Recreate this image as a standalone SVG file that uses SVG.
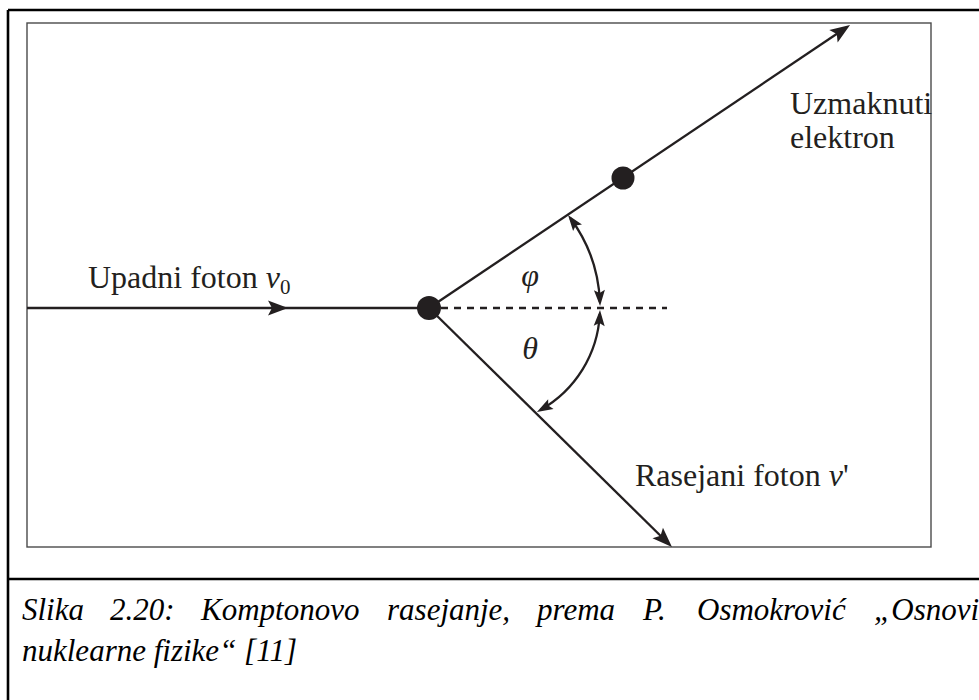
<svg xmlns="http://www.w3.org/2000/svg" width="979" height="700" viewBox="0 0 979 700">
  <style>
    .frame { stroke: #000; stroke-width: 2.6; fill: none; }
    .inner { stroke: #4a4a4a; stroke-width: 1.4; fill: none; }
    .ln { stroke: #231f20; stroke-width: 2.3; fill: none; }
    .dash { stroke: #231f20; stroke-width: 2.3; stroke-dasharray: 7 6; fill: none; }
    .arc { stroke: #231f20; stroke-width: 2.3; fill: none; marker-start: url(#ah2); marker-end: url(#ah2); }
    .dot { fill: #231f20; }
    .lbl { font-family: "Liberation Serif", "Times New Roman", serif; font-size: 32px; fill: #231f20; }
    .it { font-style: italic; }
    .cap { font-family: "Liberation Serif", "Times New Roman", serif; font-size: 31px; font-style: italic; fill: #000; }
  </style>
  <defs>
    <marker id="ah" markerUnits="userSpaceOnUse" markerWidth="26" markerHeight="18" viewBox="-20 -9 26 18" refX="0" refY="0" orient="auto-start-reverse">
      <path d="M5,0 L-15,-7.5 L-11,0 L-15,7.5 Z" fill="#231f20"/>
    </marker>
    <marker id="ah2" markerUnits="userSpaceOnUse" markerWidth="20" markerHeight="14" viewBox="-15 -7 20 14" refX="0" refY="0" orient="auto-start-reverse">
      <path d="M4,0 L-12,-5.5 L-9,0 L-12,5.5 Z" fill="#231f20"/>
    </marker>
  </defs>

  <g id="frame">
    <path class="frame" d="M8,10 H979 M8,10 V700 M8,579 H979"/>
    <rect class="inner" x="27" y="23" width="904" height="524"/>
  </g>

  <g id="connectors">
    <path id="incoming" class="ln" d="M27,308 L283,308 L429,308" marker-mid="url(#ah)"/>
    <path id="electron-path" class="ln" d="M429,308 L845.9,27.8" marker-end="url(#ah)"/>
    <path id="photon-path" class="ln" d="M429,308 L668.4,543.5" marker-end="url(#ah)"/>
    <path id="axis" class="dash" d="M441,308 H667"/>
    <path id="phi-arc" class="arc" d="M570.4,218.2 A151,151 0 0 1 599.9,302"/>
    <path id="theta-arc" class="arc" d="M599.8,314 A117,117 0 0 1 540.4,410"/>
  </g>

  <g id="scatter-point">
    <circle class="dot" cx="429" cy="308" r="12"/>
  </g>
  <g id="electron">
    <circle class="dot" cx="623" cy="178" r="11.5"/>
  </g>

  <g id="label-incoming">
    <text class="lbl" x="88" y="288">Upadni foton <tspan class="it">ν</tspan><tspan font-size="21" dy="6">0</tspan></text>
  </g>
  <g id="label-electron">
    <text class="lbl" x="790" y="114">Uzmaknuti</text>
    <text class="lbl" x="790" y="148">elektron</text>
  </g>
  <g id="label-scattered">
    <text class="lbl" x="635" y="486">Rasejani foton <tspan class="it">ν</tspan>'</text>
  </g>
  <g id="label-phi">
    <text class="lbl it" x="530" y="286" text-anchor="middle">φ</text>
  </g>
  <g id="label-theta">
    <text class="lbl it" x="530" y="359" text-anchor="middle">θ</text>
  </g>

  <g id="caption">
    <text class="cap" y="620"><tspan x="22">Slika</tspan><tspan x="110">2.20:</tspan><tspan x="201">Komptonovo</tspan><tspan x="387">rasejanje,</tspan><tspan x="537">prema</tspan><tspan x="643">P.</tspan><tspan x="697">Osmokrović</tspan><tspan x="874">„Osnovi</tspan></text>
    <text class="cap" x="22" y="661">nuklearne fizike“ [11]</text>
  </g>
</svg>
